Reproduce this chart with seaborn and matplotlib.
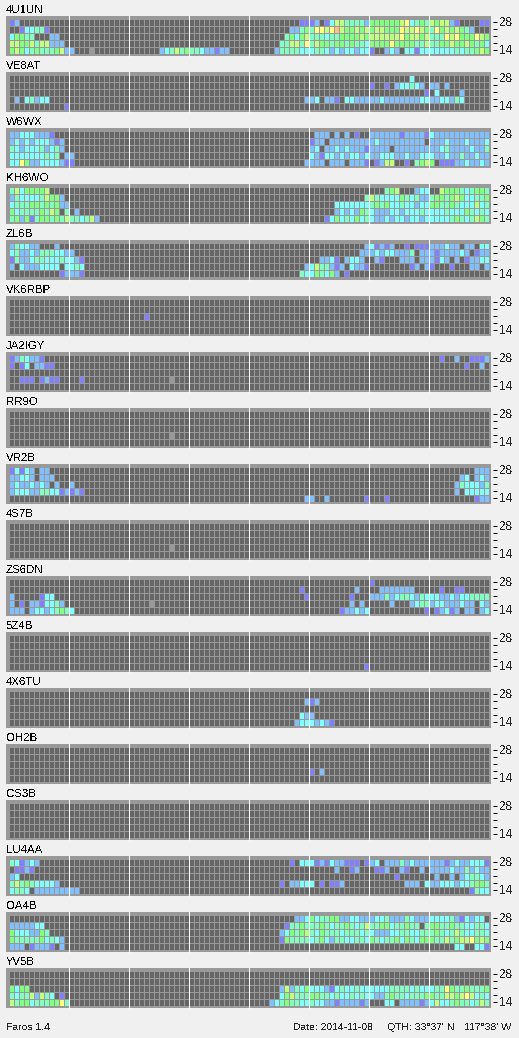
import matplotlib
matplotlib.use("Agg")
import matplotlib.pyplot as plt
import numpy as np
import seaborn as sns
from matplotlib.colors import ListedColormap

# Each station has 5 rows (28 MHz on top, 14 MHz at the bottom), 96 time slots a row.
# Written as 8 groups of 12 slots, "_" is a group with nothing heard.
# . none, a-h signal level (purple up to orange), x = slot without data
EMPTY = "_ _ _ _ _ _ _ _"

U1UN = [
    "ab.......... _ _ _ ..........aa ab.acffddddb eeeeeefgcded feffba....aa",
    "..accdda.... _ _ _ ........bbde dggfghfeefef effeeegffgfe dgefefedb...",
    "ceedd...bb.. _ _ _ .......decef dddcddeeeefe ffffffgeffef dddgfgeeegfe",
    "ffeefdffbbb. _ _ _ ......ddffdg dfeedeededdc eeeegeeeeddf ddeefeefedec",
    "efecdedddefb b...x....... ......bcdfde ddcbbabb.... .....bddddcc cddcbcbccbcc a..bcb.ccacc cccccdcddefe",
]
VE8AT = [
    "_ _ _ _ _ _ ........c... _",
    "_ _ _ _ _ _ a..a.bccdcb. bb.b........",
    "_ _ _ _ _ _ ...........a .c....b.....",
    ".b.cdbcc.... _ _ _ ...........b bc.bba.ccbbb bbcbbbbbbbcc bbccbdc.....",
    "...........a _ _ _ _ _ _ _",
]
W6WX = [
    "bbcccbbba... _ _ _ _ .bbb.b.b.a.. bbbbbbabbbba cbbbbbbbbbbb",
    "bcbcbcccbab. _ _ _ _ abb.bbbbbbbb bcbbbbbbbbb. bbbcbbbcbbbc",
    "dcbcccdbcdb. _ _ _ _ bc.bbcbcbbba bbbb.bbbbbbb bbcdbbbbcbbd",
    "cccccccdcd.b b........... _ _ _ cbaccbcbccbc bbcccbbcbbcc cbbcbbdbbcbb",
    "ccgebbccccba a........... _ _ ...........b bbb.bbb.bbba .abff..a.def e.aaabbcbbcb",
]
KH6WO = [
    "dfceeeef.... _ _ _ _ _ ...def...bcc ..feeedcdeed",
    "bdccccdfeeb. _ _ _ _ ...........d fdccccedcdbb deedefeccdde",
    "cdddeededebb _ _ _ _ .....ccccccc dedeccdccbcc eeddedcccfcd",
    "ecddddedfe.d .b.......... _ _ _ .....bcbcbed cbbbccbcccdc cccdcccedcdc",
    "debeadeededf ddcdfb...... _ _ _ ...acecdcecd cbbcbccbccbc ccccdedcdfed",
]
ZL6B = [
    "bdccbb...b.. _ _ _ _ ...........b cabab..a.aaa bbbcbb.bb.cc",
    "cdbbcbdddccb b........... _ _ _ ..........bb bcbccbbbd.bb babbbbcb.abb",
    "adbbcddcccdc cba......... _ _ _ ..bbca.bccb. .ba...bbb.bb bacb.b.abbcc",
    "b.cbbbcccc.c cdc......... _ _ ...........b cfddbab.cbba ........ab.b a...a...bb.b",
    "..........ab bba......... _ _ ..........dc cedceb.a.... _ _",
]
VK6RBP = [
    EMPTY,
    EMPTY,
    "_ _ ...a........ _ _ _ _ _",
    EMPTY,
    EMPTY,
]
JA2IGY = [
    "abdcbba..... _ _ _ _ _ _ ..a..b..aaab",
    "a.ac.bbaa... _ _ _ _ _ _ .......a..b.",
    EMPTY,
    "..aaa.abaa.. ..a......... ........x... _ _ _ _ _",
    EMPTY,
]
RR9O = [
    EMPTY,
    EMPTY,
    EMPTY,
    "_ _ ........x... _ _ _ _ _",
    EMPTY,
]
VR2B = [
    "acacb.bb.... _ _ _ _ _ _ .........bbb",
    "bbccb.bbb... _ _ _ _ _ _ ......bc.bcb",
    "bcbbcbcb.b.. b........... _ _ _ _ _ .....bdcccbd",
    "bcccbbddccab aba......... _ _ _ _ _ .....b.ccccc",
    "_ _ _ _ ...........b b..b.......a ...a........ .........abb",
]
S7B = [
    EMPTY,
    EMPTY,
    EMPTY,
    "_ _ ........x... _ _ _ _ _",
    EMPTY,
]
ZS6DN = [
    "_ _ _ _ _ _ a........... _",
    "_ _ _ _ ..........a. .........b.. ..bbbbbbb... ..a..aa.....",
    "b.....acc... _ _ _ ...........a ........a... bbbdbcddcbdc ccbbcbccdddd",
    "b.a.bbaccdb. _ ....x....... _ _ ........b.b. ....b...bcdd bccbbbcbb.cb",
    "bbb.bccbcded c........... _ _ _ ......abbcbc ...........a .abcab.bb.bc",
]
Z4B = [
    EMPTY,
    EMPTY,
    EMPTY,
    EMPTY,
    "_ _ _ _ _ ...........a _ _",
]
X6TU = [
    EMPTY,
    "_ _ _ _ ...........b ab.......... _ _",
    EMPTY,
    "_ _ _ _ ..........cb b........... _ _",
    "_ _ _ _ .........bcc cbcba....... _ _",
]
OH2B = [
    EMPTY,
    EMPTY,
    EMPTY,
    "_ _ _ _ _ a.b......... _ _",
    EMPTY,
]
CS3B = [EMPTY, EMPTY, EMPTY, EMPTY, EMPTY]
LU4AA = [
    "dcabcb...... _ _ _ ........a.cc cabacbbaaa.a bc.bbbdbcbbb bbbabcbbccca",
    ".aaba....... _ _ _ _ .....b..ab.. .aab..ba..b. bbbbcbbdbcbb",
    "bc.......... _ _ _ _ _ .....a...... .b..b.bcddcb",
    "dfdedccccb.. _ _ _ ......a.bbcc c.a.aab..... .......bbb.c bbcccbccdeed",
    "cddc.bbbbbbb bb.......... _ _ _ _ _ ........adcc",
]
OA4B = [
    "_ _ _ _ .........bbc ecddeebbccbb bccdbbbdcbbb ccccdbacbcc.",
    "bbbbbcc..... _ _ _ .......added ddedcddedcdf ddeecddedd.d eeddeddccddc",
    "ecccbbed.... _ _ _ ......bcedef dcedddcdddcd cbbbccddccdd dedcdfdccddc",
    "edddddecdcb. _ _ _ ......aedddd cdecbddccddc edcddecedcee eddfdeffgefe",
    "bbb.abbba.b. _ _ _ _ _ _ .....cc..cca",
]
YV5B = [
    EMPTY,
    EMPTY,
    "ecee........ _ _ _ ......bfbdce cccbacdccdcc ccccddddcdcc cddgeddeddde",
    "dcddfbfdc.a. _ _ _ ......cefddd eeddcdccdcdc cbbdeddcddde eddffefgfcdc",
    "fdeecdddeegd _ _ _ ....bcdeddcc dccbbabbbbab ...cc.bbbbab cfccdeddcdfd",
]

stations = ["4U1UN", "VE8AT", "W6WX", "KH6WO", "ZL6B", "VK6RBP", "JA2IGY", "RR9O", "VR2B",
            "4S7B", "ZS6DN", "5Z4B", "4X6TU", "OH2B", "CS3B", "LU4AA", "OA4B", "YV5B"]
grids = [U1UN, VE8AT, W6WX, KH6WO, ZL6B, VK6RBP, JA2IGY, RR9O, VR2B,
         S7B, ZS6DN, Z4B, X6TU, OH2B, CS3B, LU4AA, OA4B, YV5B]

levels = ".abcdefghx"
colours = ["#666666", "#8080ff", "#80c0ff", "#80ffff", "#80ffc0",
           "#80ff80", "#c0ff80", "#ffff80", "#ffc080", "#999999"]
tick_labels = ["28", "", "", "", "14"]

WIDTH, HEIGHT = 519, 1038


def row_to_levels(row):
    groups = row.split(" ")
    assert len(groups) == 8, row
    out = []
    for g in groups:
        g = "." * 12 if g == "_" else g
        assert len(g) == 12, (row, g)
        out.extend(levels.index(ch) for ch in g)
    return out


def box(left, top, right, bottom):
    # pixel box to figure fractions
    return [left / WIDTH, 1 - bottom / HEIGHT, (right - left) / WIDTH, (bottom - top) / HEIGHT]


sns.set_style("white")
plt.rcParams["font.family"] = ["Liberation Sans", "DejaVu Sans"]
plt.rcParams["text.antialiased"] = False
plt.rcParams["text.hinting"] = "native"

fig = plt.figure(figsize=(WIDTH / 100, HEIGHT / 100), dpi=100, facecolor="#f0f0f0")
cmap = ListedColormap(colours)

for i, (name, grid) in enumerate(zip(stations, grids)):
    top = 16 + 56 * i

    # grey frame behind the cells, it also carries the station name
    frame = fig.add_axes(box(6, top, 491, top + 40), facecolor="#999999")
    frame.set_xticks([])
    frame.set_yticks([])
    sns.despine(ax=frame, left=True, bottom=True)
    frame.set_title(name, loc="left", fontsize=8.2, pad=2.2, color="black")

    ax = fig.add_axes(box(8.5, top + 2.5, 488.5, top + 37.5))
    data = np.array([row_to_levels(r) for r in grid])
    sns.heatmap(data, ax=ax, cmap=cmap, vmin=-0.5, vmax=9.5, cbar=False,
                xticklabels=False, yticklabels=False, antialiased=False)

    # cell borders drawn as separate lines so every one stays 1 pixel
    ax.vlines(np.arange(0, 97), 0, 5, color="#999999", linewidth=0.72,
              clip_on=False, antialiased=False)
    ax.hlines(np.arange(0, 6), 0, 96, color="#999999", linewidth=0.72,
              clip_on=False, antialiased=False)
    # white line every 12 slots, through the frame
    ax.vlines(np.arange(12, 96, 12), -2.5 / 7, 5 + 2.5 / 7, color="white",
              linewidth=0.72, clip_on=False, antialiased=False)

    # band ticks sit just right of the frame
    tick_ax = fig.add_axes(box(493, top + 2.5, 493.01, top + 37.5), facecolor="none")
    tick_ax.set_xticks([])
    tick_ax.set_ylim(5, 0)
    sns.despine(ax=tick_ax, left=True, bottom=True)
    tick_ax.yaxis.tick_right()
    tick_ax.set_yticks(np.arange(5) + 0.43)
    tick_ax.set_yticklabels(tick_labels, fontsize=8.4)
    tick_ax.tick_params(axis="y", right=True, length=2.9, width=0.72, pad=1.8, color="black")

fig.text(6 / WIDTH, 1 - 1030 / HEIGHT, "Faros 1.4", fontsize=7.5, va="baseline")
fig.text(293 / WIDTH, 1 - 1030 / HEIGHT, "Date: 2014-11-08", fontsize=7.5, va="baseline")
fig.text(387 / WIDTH, 1 - 1030 / HEIGHT, "QTH: 33°37' N", fontsize=7.5, va="baseline")
fig.text(464 / WIDTH, 1 - 1030 / HEIGHT, "117°38' W", fontsize=7.5, va="baseline")

plt.savefig("out.png", dpi=100, facecolor=fig.get_facecolor())
plt.close()
